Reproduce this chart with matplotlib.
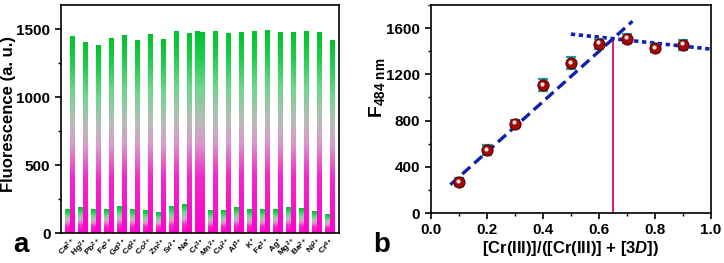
import matplotlib
matplotlib.use("Agg")
import matplotlib.pyplot as plt
import matplotlib.transforms as mtransforms
import numpy as np
from matplotlib.colors import LinearSegmentedColormap
from matplotlib.ticker import MultipleLocator, FormatStrFormatter

plt.rcParams["font.family"] = ["Liberation Sans", "DejaVu Sans"]
plt.rcParams["font.weight"] = "bold"
plt.rcParams["mathtext.fontset"] = "custom"
plt.rcParams["mathtext.rm"] = "Liberation Sans:bold"
plt.rcParams["mathtext.bf"] = "Liberation Sans:bold"
plt.rcParams["mathtext.it"] = "Liberation Sans:italic:bold"

# panel a data
ions = [r"Ca$^{2+}$", r"Hg$^{2+}$", r"Pb$^{2+}$", r"Fe$^{2+}$", r"Gd$^{3+}$", r"Cd$^{2+}$",
        r"Co$^{2+}$", r"Zn$^{2+}$", r"Sr$^{2+}$", r"Na$^{+}$", r"Cr$^{3+}$", r"Mn$^{2+}$",
        r"Cu$^{2+}$", r"Al$^{3+}$", r"K$^{+}$", r"Fe$^{3+}$", r"Ag$^{+}$", r"Mg$^{2+}$",
        r"Ba$^{2+}$", r"Ni$^{2+}$", r"Cr$^{6+}$"]
with_ion = [170, 185, 175, 175, 195, 175, 168, 150, 195, 210, 1485, 168,
            168, 185, 175, 170, 175, 190, 180, 155, 135]
with_cr = [1450, 1400, 1385, 1430, 1455, 1415, 1460, 1425, 1485, 1470, 1475, 1485,
           1470, 1475, 1485, 1490, 1475, 1480, 1485, 1475, 1415]

# panel b data
ratio = [0.1, 0.2, 0.3, 0.4, 0.5, 0.6, 0.7, 0.8, 0.9]
f484 = [268, 545, 773, 1107, 1297, 1463, 1508, 1424, 1455]
f484_err = [35, 45, 35, 50, 50, 40, 40, 35, 45]
fit_rise_x = [0.07, 0.72]
fit_rise_y = [245, 1660]
fit_flat_x = [0.5, 1.0]
fit_flat_y = [1548, 1418]
job_x = 0.65
job_y = 1512

cmap = LinearSegmentedColormap.from_list(
    "mg", [(0.0, "#ff00cc"), (0.28, "#f428c8"), (0.45, "#d99acb"),
           (0.56, "#b9bcb9"), (0.72, "#6fd68c"), (0.87, "#1fce4c"), (1.0, "#00c22c")])
grad = np.linspace(0, 1, 256).reshape(-1, 1)

fig = plt.figure(figsize=(7.24, 2.63), dpi=100)
ax1 = fig.add_axes([0.084, 0.114, 0.384, 0.867])
ax2 = fig.add_axes([0.595, 0.19, 0.387, 0.791])

w = 0.38
idx = np.arange(len(ions))
for i in idx:
    for x0, h in ((i - w, with_ion[i]), (i, with_cr[i])):
        ax1.imshow(grad, cmap=cmap, origin="lower", aspect="auto",
                   extent=[x0 + 0.02, x0 + w, 0, h], interpolation="bilinear", zorder=2)
ax1.set_xlim(-0.72, len(ions) - 0.3)
ax1.set_ylim(0, 1680)
ax1.set_xticks(idx)
ax1.set_xticklabels(ions, rotation=45, fontsize=6, ha="right", rotation_mode="anchor")
ax1.tick_params(axis="x", length=0, pad=2)
ax1.yaxis.set_major_locator(MultipleLocator(500))
ax1.yaxis.set_minor_locator(MultipleLocator(250))
ax1.tick_params(axis="y", which="major", length=4, width=1.2, labelsize=11)
ax1.tick_params(axis="y", which="minor", length=2, width=1)
ax1.set_ylabel("Fluorescence (a. u.)", fontsize=12, fontweight="bold")
ax1.yaxis.set_label_coords(-0.16, 0.52)
for s in ax1.spines.values():
    s.set_linewidth(1.2)

ax2.errorbar(ratio, f484, yerr=f484_err, fmt="none", ecolor="#1f9a9a", elinewidth=1.6,
             capsize=3.5, capthick=1.6, zorder=3)
ax2.plot(ratio, f484, "o", ms=8, color="#a00808", mec="#600000", mew=0.8, zorder=4)
shift = ax2.transData + mtransforms.ScaledTranslation(-1.2 / 100, 1.5 / 100, fig.dpi_scale_trans)
ax2.plot(ratio, f484, "o", ms=3, color="white", mew=0, zorder=5, alpha=0.9, transform=shift)
ax2.plot(fit_rise_x, fit_rise_y, ls=(0, (3.2, 1.6)), color="#1020b0", lw=2.4, zorder=2)
ax2.plot(fit_flat_x, fit_flat_y, ls=(0, (1.2, 1.0)), color="#1020b0", lw=2.6, zorder=2)
ax2.plot([job_x, job_x], [0, job_y], color="#e0157a", lw=1.4, zorder=1)
ax2.set_xlim(0, 1.0)
ax2.set_ylim(0, 1800)
ax2.xaxis.set_major_locator(MultipleLocator(0.2))
ax2.xaxis.set_minor_locator(MultipleLocator(0.1))
ax2.xaxis.set_major_formatter(FormatStrFormatter("%.1f"))
ax2.yaxis.set_major_locator(MultipleLocator(400))
ax2.yaxis.set_minor_locator(MultipleLocator(200))
ax2.tick_params(which="major", length=4, width=1.2, labelsize=11)
ax2.tick_params(which="minor", length=2, width=1)
ax2.set_xlabel(r"[Cr(III)]/([Cr(III)] + [$3D$])", fontsize=12, fontweight="bold", labelpad=1)
ax2.set_ylabel(r"F$_{\mathit{484}\ \mathrm{nm}}$", fontsize=14, fontweight="bold")
ax2.yaxis.set_label_coords(-0.155, 0.6)
for s in ax2.spines.values():
    s.set_linewidth(1.2)

fig.text(0.018, 0.04, "a", fontsize=20, fontweight="bold")
fig.text(0.515, 0.04, "b", fontsize=20, fontweight="bold")

fig.savefig("out.png", dpi=100)
